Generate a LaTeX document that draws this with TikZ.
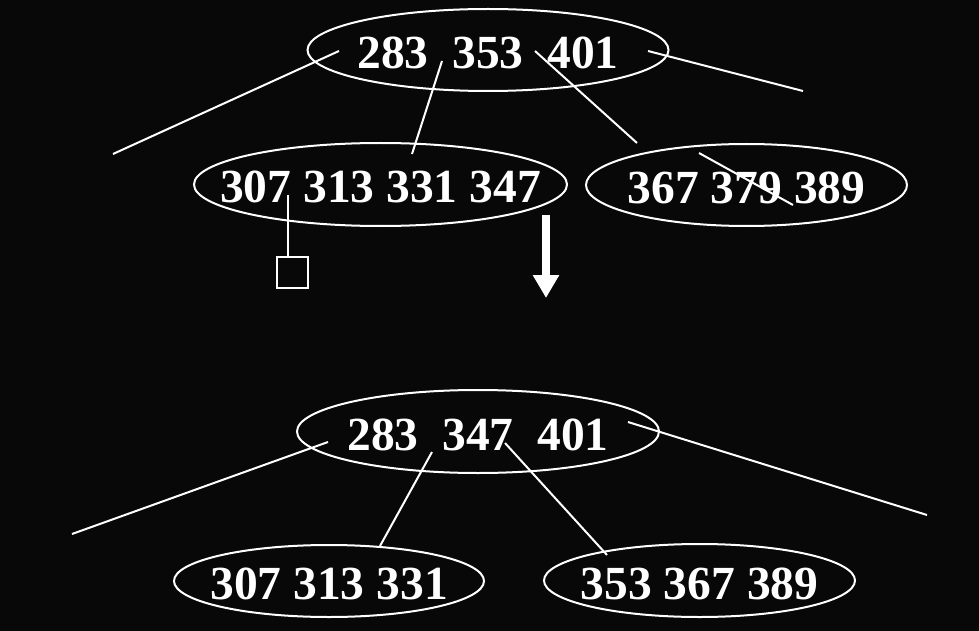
\documentclass[tikz,border=0pt]{standalone}
\usepackage{fontspec}
\setmainfont{Liberation Serif}
\usetikzlibrary{shapes.geometric,arrows.meta}
\definecolor{bg}{HTML}{080808}
\begin{document}
\begin{tikzpicture}[x=1pt,y=-1pt,
  numtxt/.style={inner sep=0pt, text=white,
    font=\fontsize{47.5}{50}\selectfont\bfseries, text height=37pt, text depth=0pt},
  key/.style={ellipse, draw=white, line width=2pt, inner sep=0pt},
  link/.style={draw=white, line width=2pt},
  bigarrow/.style={draw=white, line width=8pt, -{Triangle[length=23pt,width=25pt]}}]
\fill[bg] (0,0) rectangle (979,631);
\useasboundingbox (0,0) rectangle (979,631);

% upper tree
\node[key, minimum width=361pt, minimum height=82pt,
  label={[numtxt]center:283\hspace{.5em}353\hspace{.5em}401}] (top) at (488,50) {};
\node[key, minimum width=373pt, minimum height=83pt,
  label={[numtxt]center:307 313 331 347}] (tl) at (380.5,184.5) {};
\node[key, minimum width=321pt, minimum height=82pt,
  label={[numtxt]center:367 379 389}] (tr) at (746.5,185) {};
\node[draw=white, line width=2pt, minimum size=31pt, inner sep=0pt] (sq) at (292.5,272.5) {};

\coordinate (ta) at (339,51);  \coordinate (te1) at (113,154);
\coordinate (tb) at (442,61);  \coordinate (te2) at (412,154);
\coordinate (tc) at (535,51);  \coordinate (te3) at (637,143);
\coordinate (td) at (648,51);  \coordinate (te4) at (803,91);
\coordinate (tx1) at (699,153); \coordinate (tx2) at (793,205);
\coordinate (p307) at (288,195);

\draw[link] (ta) -- (te1);
\draw[link] (tb) -- (te2);
\draw[link] (tc) -- (te3);
\draw[link] (td) -- (te4);
\draw[link] (tx1) -- (tx2);
\draw[link] (p307) -- (p307 |- sq.north);

% arrow
\coordinate (a1) at (546,215);
\coordinate (a2) at (546,298);
\draw[bigarrow] (a1) -- (a2);

% lower tree
\node[key, minimum width=362pt, minimum height=83pt,
  label={[numtxt]center:283\hspace{.5em}347\hspace{.5em}401}] (bot) at (478,431.5) {};
\node[key, minimum width=310pt, minimum height=72pt,
  label={[numtxt]center:307 313 331}] (bl) at (329,581) {};
\node[key, minimum width=311pt, minimum height=73pt,
  label={[numtxt]center:353 367 389}] (br) at (699.5,580.5) {};

\coordinate (ba) at (328,442); \coordinate (be1) at (72,534);
\coordinate (bb) at (432,452); \coordinate (be2) at (380,546);
\coordinate (bc) at (505,443); \coordinate (be3) at (607,555);
\coordinate (bd) at (628,422); \coordinate (be4) at (927,515);

\draw[link] (ba) -- (be1);
\draw[link] (bb) -- (be2);
\draw[link] (bc) -- (be3);
\draw[link] (bd) -- (be4);
\end{tikzpicture}
\end{document}
